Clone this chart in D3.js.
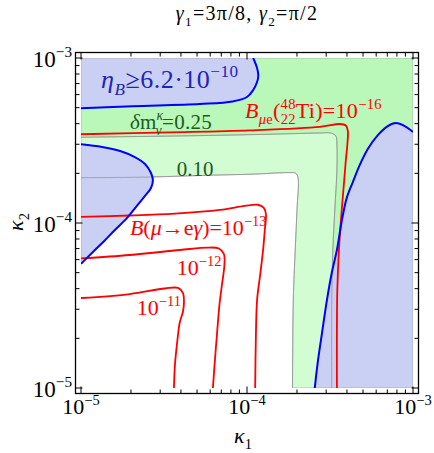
<!DOCTYPE html>
<html>
<head>
<meta charset="utf-8">
<script src="https://cdn.jsdelivr.net/npm/d3@7"></script>
<style>
  body { margin: 0; background: #fff; }
</style>
</head>
<body>
<svg id="chart" width="434" height="453"></svg>
<script>
// values, as [kappa1, kappa2]
const etaTopLeft = [[1e-5,4.96e-4],[2.06e-5,5.1e-4],[5.2e-5,5.26e-4],[8.2e-5,5.45e-4],[1.0e-4,5.8e-4],
  [1.09e-4,6.4e-4],[1.15e-4,7.15e-4],[1.17e-4,7.8e-4],[1.15e-4,8.7e-4],[1.09e-4,1e-3]];
const etaLeft = [[1e-5,3.0e-4],[1.34e-5,2.89e-4],[1.72e-5,2.73e-4],[2.11e-5,2.51e-4],[2.43e-5,2.28e-4],
  [2.64e-5,2.01e-4],[2.71e-5,1.82e-4],[2.64e-5,1.63e-4],[2.43e-5,1.46e-4],[2.17e-5,1.27e-4],
  [1.89e-5,1.07e-4],[1.60e-5,9.07e-5],[1.38e-5,7.78e-5],[1.18e-5,6.67e-5],[1e-5,5.65e-5]];
const etaRight = [[2.56e-4,1e-5],[2.67e-4,1.44e-5],[2.82e-4,2.10e-5],[3.03e-4,3.41e-5],[3.24e-4,4.98e-5],
  [3.48e-4,6.86e-5],[3.73e-4,1.04e-4],[3.99e-4,1.42e-4],[4.34e-4,1.77e-4],[4.78e-4,2.25e-4],
  [5.34e-4,2.81e-4],[6.14e-4,3.41e-4],[7.05e-4,3.87e-4],[7.88e-4,4.04e-4],[8.93e-4,3.87e-4],[1e-3,3.56e-4]];
const dm25 = [[1e-5,3.31e-4],[3.94e-5,3.37e-4],[1.2e-4,3.44e-4],[2.75e-4,3.51e-4],[3.2e-4,3.51e-4],
  [3.43e-4,3.37e-4],[3.48e-4,2.97e-4],[3.48e-4,2.10e-4],[3.38e-4,1.2e-4],[3.29e-4,6.86e-5],
  [3.24e-4,3.41e-5],[3.24e-4,1e-5]];
const dm10 = [[1e-5,1.88e-4],[2.6e-5,1.90e-4],[5.2e-5,1.94e-4],[1.12e-4,1.98e-4],[1.81e-4,2.02e-4],
  [1.97e-4,2.0e-4],[2.03e-4,1.88e-4],[2.0e-4,1.2e-4],[1.94e-4,5.97e-5],[1.90e-4,3.41e-5],[1.88e-4,1e-5]];
const bmue16 = [[1e-5,3.45e-4],[3.43e-5,3.54e-4],[1.04e-4,3.64e-4],[2.75e-4,3.82e-4],[3.62e-4,3.98e-4],
  [3.94e-4,3.90e-4],[4.05e-4,3.61e-4],[4.02e-4,2.97e-4],[3.94e-4,2.41e-4],[3.83e-4,1.70e-4],
  [3.68e-4,1.04e-4],[3.58e-4,6.86e-5],[3.50e-4,3.93e-5],[3.48e-4,2.25e-5],[3.48e-4,1e-5]];
const bmeg13 = [[1e-5,1.09e-4],[1.97e-5,1.11e-4],[3.68e-5,1.14e-4],[6.87e-5,1.2e-4],[9.71e-5,1.27e-4],
  [1.16e-4,1.29e-4],[1.26e-4,1.24e-4],[1.30e-4,1.13e-4],[1.28e-4,9.07e-5],[1.25e-4,6.86e-5],
  [1.2e-4,4.84e-5],[1.15e-4,3.41e-5],[1.13e-4,1.95e-5],[1.12e-4,1e-5]];
const bmeg12 = [[1e-5,6.10e-5],[1.97e-5,6.40e-5],[3.94e-5,6.86e-5],[5.82e-5,7.10e-5],[6.77e-5,7.0e-5],
  [7.26e-5,6.49e-5],[7.31e-5,5.56e-5],[7.06e-5,4.21e-5],[6.82e-5,3.18e-5],[6.59e-5,2.10e-5],
  [6.41e-5,1.48e-5],[6.23e-5,1e-5]];
const bmeg11 = [[1e-5,3.51e-5],[1.97e-5,3.71e-5],[3.20e-5,4.01e-5],[3.84e-5,4.04e-5],[4.11e-5,3.77e-5],
  [4.17e-5,3.27e-5],[4.11e-5,2.89e-5],[3.94e-5,2.51e-5],[3.78e-5,1.82e-5],[3.68e-5,1.38e-5],[3.63e-5,1e-5]];

const majorTicks = [1e-5, 1e-4, 1e-3];
const tickExponents = ["−5", "−4", "−3"];

// label anchors [kappa1, kappa2]
const labelEta = [1.32e-5, 6.58e-4];
const labelDm25 = [1.97e-5, 3.71e-4];
const labelDm10 = [3.78e-5, 1.93e-4];
const labelBmue = [9.71e-5, 4.33e-4];
const labelBmeg13 = [1.97e-5, 8.46e-5];
const labelBmeg12 = [3.78e-5, 4.84e-5];
const labelBmeg11 = [2.17e-5, 2.77e-5];

const FONT = "Liberation Serif";
const svg = d3.select("#chart");
const x = d3.scaleLog().domain([1e-5, 1e-3]).range([81, 413]);
const y = d3.scaleLog().domain([1e-5, 1e-3]).range([388, 58]);

const line = d3.line().x(d => x(d[0])).y(d => y(d[1])).curve(d3.curveCatmullRom.alpha(0.5));
const region = (pts, corners) =>
  line(pts) + corners.map(c => `L${x(c[0])},${y(c[1])}`).join("") + "Z";

svg.append("clipPath").attr("id", "plotclip")
  .append("rect").attr("x", 81).attr("y", 58).attr("width", 332).attr("height", 330);

const plot = svg.append("g").attr("clip-path", "url(#plotclip)");
const outer = [[1e-3, 1e-5], [1e-3, 1e-3], [1e-5, 1e-3]];

plot.append("path").attr("d", region(dm10, outer))
  .attr("fill", "#d2fcd2").attr("stroke", "#999").attr("stroke-width", 0.6);
plot.append("path").attr("d", region(dm25, outer))
  .attr("fill", "#b9f8b9").attr("stroke", "#999").attr("stroke-width", 0.6);

const blueFill = "#c9d0f4";
plot.append("path").attr("d", region(etaTopLeft, [[1e-5, 1e-3]]))
  .attr("fill", blueFill).attr("stroke", "#999").attr("stroke-width", 0.6);
plot.append("path").attr("d", region(etaLeft, []))
  .attr("fill", blueFill).attr("stroke", "#999").attr("stroke-width", 0.6);
plot.append("path").attr("d", region(etaRight, [[1e-3, 1e-5]]))
  .attr("fill", blueFill).attr("stroke", "#999").attr("stroke-width", 0.6);

[dm25, dm10].forEach(c => {
  plot.append("path").attr("d", line(c)).attr("fill", "none")
    .attr("stroke", "#8c8c8c").attr("stroke-width", 0.7);
});
[bmue16, bmeg13, bmeg12, bmeg11].forEach(c => {
  plot.append("path").attr("d", line(c)).attr("fill", "none")
    .attr("stroke", "#ff0000").attr("stroke-width", 1.8);
});
[etaTopLeft, etaLeft, etaRight].forEach(c => {
  plot.append("path").attr("d", line(c)).attr("fill", "none")
    .attr("stroke", "#0000ff").attr("stroke-width", 2);
});

// text with sub/superscripts
function rich(sel, parts, size, spacing) {
  sel.style("font-family", FONT).style("font-size", size + "px");
  if (spacing) sel.style("letter-spacing", spacing + "px");
  let cur = 0;
  parts.forEach(p => {
    const off = p.sup ? -0.42 * size : p.sub ? 0.28 * size : 0;
    const ts = sel.append("tspan").attr("dy", off - cur).text(p.t)
      .style("font-family", FONT);
    if (p.sup || p.sub) ts.style("font-size", (size * 0.66) + "px");
    if (p.it) ts.style("font-style", "italic");
    if (p.dx) ts.attr("dx", p.dx);
    cur = off;
  });
  return sel;
}
function label(pos, parts, size, color, spacing) {
  const t = svg.append("text").attr("x", x(pos[0])).attr("y", y(pos[1])).attr("fill", color);
  return rich(t, parts, size, spacing);
}

label(labelEta, [{t: "η", it: 1}, {t: "B", sub: 1, it: 1}, {t: "≥6.2·10"}, {t: "−10", sup: 1}], 26, "#2323b4", 0.5);
label(labelDm25, [{t: "δ", it: 1}, {t: "m"}, {t: "κ", sup: 1, it: 1}, {t: "ν", sub: 1, it: 1, dx: -8}, {t: "=0.25"}], 21, "#1c5c1c", 0.3);
label(labelDm10, [{t: "0.10"}], 21, "#1c5c1c");
label(labelBmue, [{t: "B", it: 1}, {t: "μ", sub: 1, it: 1}, {t: "e", sub: 1}, {t: "("},
  {t: "48", sup: 1}, {t: "22", sub: 1, dx: -15}, {t: "Ti)=10"}, {t: "−16", sup: 1}], 22, "#ff0000", 0.3);
label(labelBmeg13, [{t: "B", it: 1}, {t: "("}, {t: "μ", it: 1}, {t: "→e"}, {t: "γ", it: 1},
  {t: ")=10"}, {t: "−13", sup: 1}], 22, "#ff0000");
label(labelBmeg12, [{t: "10"}, {t: "−12", sup: 1}], 22, "#ff0000");
label(labelBmeg11, [{t: "10"}, {t: "−11", sup: 1}], 22, "#ff0000");

// frame and ticks
const fx0 = 75.5, fx1 = 418.5, fy0 = 52.5, fy1 = 393.5;
const axes = svg.append("g").attr("stroke", "#000");
x.ticks().forEach(v => {
  const len = majorTicks.includes(v) ? 7 : 4;
  axes.append("line").attr("x1", x(v)).attr("x2", x(v)).attr("y1", fy1).attr("y2", fy1 - len);
  axes.append("line").attr("x1", x(v)).attr("x2", x(v)).attr("y1", fy0).attr("y2", fy0 + len);
});
y.ticks().forEach(v => {
  const len = majorTicks.includes(v) ? 7 : 4;
  axes.append("line").attr("y1", y(v)).attr("y2", y(v)).attr("x1", fx0).attr("x2", fx0 + len);
  axes.append("line").attr("y1", y(v)).attr("y2", y(v)).attr("x1", fx1).attr("x2", fx1 - len);
});
axes.append("rect").attr("x", fx0).attr("y", fy0).attr("width", fx1 - fx0).attr("height", fy1 - fy0)
  .attr("fill", "none").attr("stroke-width", 1.3);

majorTicks.forEach((v, i) => {
  rich(svg.append("text").attr("x", x(v)).attr("y", 414).attr("text-anchor", "middle"),
    [{t: "10"}, {t: tickExponents[i], sup: 1}], 22);
  rich(svg.append("text").attr("x", 72).attr("y", y(v) + 9).attr("text-anchor", "end"),
    [{t: "10"}, {t: tickExponents[i], sup: 1}], 23);
});

rich(svg.append("text").attr("x", 243).attr("y", 443).attr("text-anchor", "middle"),
  [{t: "κ", it: 1}, {t: "1", sub: 1}], 22);
rich(svg.append("text").attr("transform", "translate(23,222) rotate(-90)").attr("text-anchor", "middle"),
  [{t: "κ", it: 1}, {t: "2", sub: 1}], 22);

rich(svg.append("text").attr("x", 247).attr("y", 20).attr("text-anchor", "middle"),
  [{t: "γ", it: 1}, {t: "1", sub: 1}, {t: "=3π/8, "}, {t: "γ", it: 1}, {t: "2", sub: 1}, {t: "=π/2"}], 20, 1.3);
</script>
</body>
</html>
